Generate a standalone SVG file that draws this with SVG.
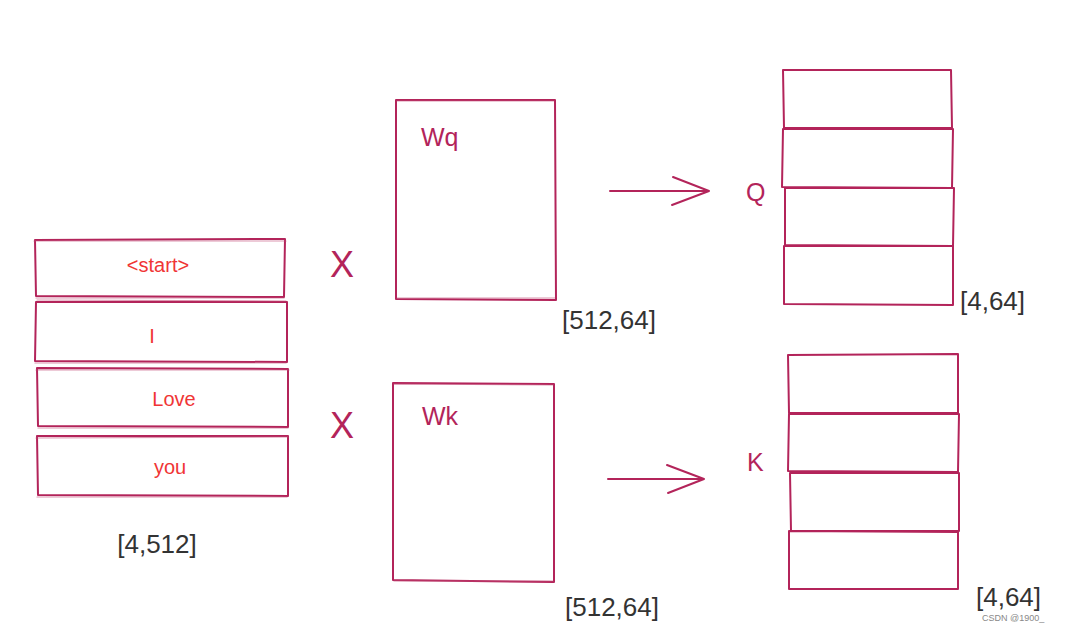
<svg xmlns="http://www.w3.org/2000/svg" width="1071" height="624" viewBox="0 0 1071 624">
<style>
.bx{fill:none;stroke:#b3245a;stroke-width:2;stroke-linejoin:round;stroke-linecap:round}
.bx2{fill:none;stroke:#c4527c;stroke-width:1.2;stroke-opacity:0.6;stroke-linecap:round}
.ln{fill:none;stroke:#b3245a;stroke-width:2;stroke-linecap:round}
.tok{font-family:"Liberation Sans",Arial,sans-serif;font-size:20px;fill:#f03535;text-anchor:middle}
.lbl{font-family:"Liberation Sans",Arial,sans-serif;font-size:25px;fill:#b3245a}
.dim{font-family:"Liberation Sans",Arial,sans-serif;font-size:26px;fill:#333}
.x{font-family:"Liberation Sans",Arial,sans-serif;font-size:36px;fill:#b3245a;text-anchor:middle}
.wm{font-family:"Liberation Sans",Arial,sans-serif;font-size:9px;fill:#888}
</style>
<rect width="1071" height="624" fill="#fff"/>
<g id="input">
<path class="bx" d="M35,240 L285,239 L284,297 L36,296 Z"/>
<path class="bx2" d="M34,241 L286,241 M36,298 L284,298"/>
<text class="tok" x="158" y="272">&lt;start&gt;</text>
<path class="bx" d="M36,302 L287,302 L287,362 L35,361 Z"/>
<path class="bx2" d="M37,300 L286,301 M35,363 L286,363"/>
<text class="tok" x="152" y="343">I</text>
<path class="bx" d="M37,368 L288,369 L288,427 L38,426 Z"/>
<path class="bx2" d="M36,370 L289,370 M38,428 L288,428"/>
<text class="tok" x="174" y="406">Love</text>
<path class="bx" d="M37,436 L288,436 L288,496 L38,495 Z"/>
<path class="bx2" d="M36,438 L288,437 M37,497 L287,497"/>
<text class="tok" x="170" y="474">you</text>
<text class="dim" x="157" y="553" text-anchor="middle">[4,512]</text>
</g>
<g id="ops">
<text class="x" x="342" y="277">X</text>
<text class="x" x="342" y="438">X</text>
</g>
<g id="wq">
<path class="bx" d="M396,100 L555,100 L556,300 L396,299 Z"/>
<path class="bx2" d="M397,101 L554,101 M397,298 L555,298"/>
<text class="lbl" x="421" y="146">Wq</text>
<text class="dim" x="562" y="329">[512,64]</text>
</g>
<g id="wk">
<path class="bx" d="M393,383 L554,384 L554,582 L393,580 Z"/>
<path class="bx2" d="M394,384 L553,385 M394,581 L553,581"/>
<text class="lbl" x="422" y="425">Wk</text>
<text class="dim" x="565" y="616">[512,64]</text>
</g>
<g id="q">
<text class="lbl" x="746" y="201">Q</text>
<path class="bx" d="M783,70 L951,70 L952,128 L784,128 Z"/>
<path class="bx" d="M783,129 L953,129 L952,188 L782,187 Z"/>
<path class="bx" d="M785,188 L954,188 L953,246 L785,245 Z"/>
<path class="bx" d="M784,246 L953,246 L953,305 L784,304 Z"/>
<text class="dim" x="960" y="310">[4,64]</text>
</g>
<g id="k">
<text class="lbl" x="747" y="471">K</text>
<path class="bx" d="M788,355 L958,354 L958,413 L789,413 Z"/>
<path class="bx" d="M789,414 L959,414 L958,472 L788,471 Z"/>
<path class="bx" d="M790,473 L959,473 L959,531 L791,531 Z"/>
<path class="bx" d="M789,531 L958,532 L958,589 L789,589 Z"/>
<text class="dim" x="976" y="606">[4,64]</text>
<text class="wm" x="982" y="621">CSDN @1900_</text>
</g>
<g id="connectors">
<path class="ln" d="M610,191 L709,191 M673,177 L709,191 M672,205 L709,191"/>
<path class="ln" d="M608,479 L704,479 M667,465 L704,479 M668,493 L704,479"/>
</g>
</svg>
